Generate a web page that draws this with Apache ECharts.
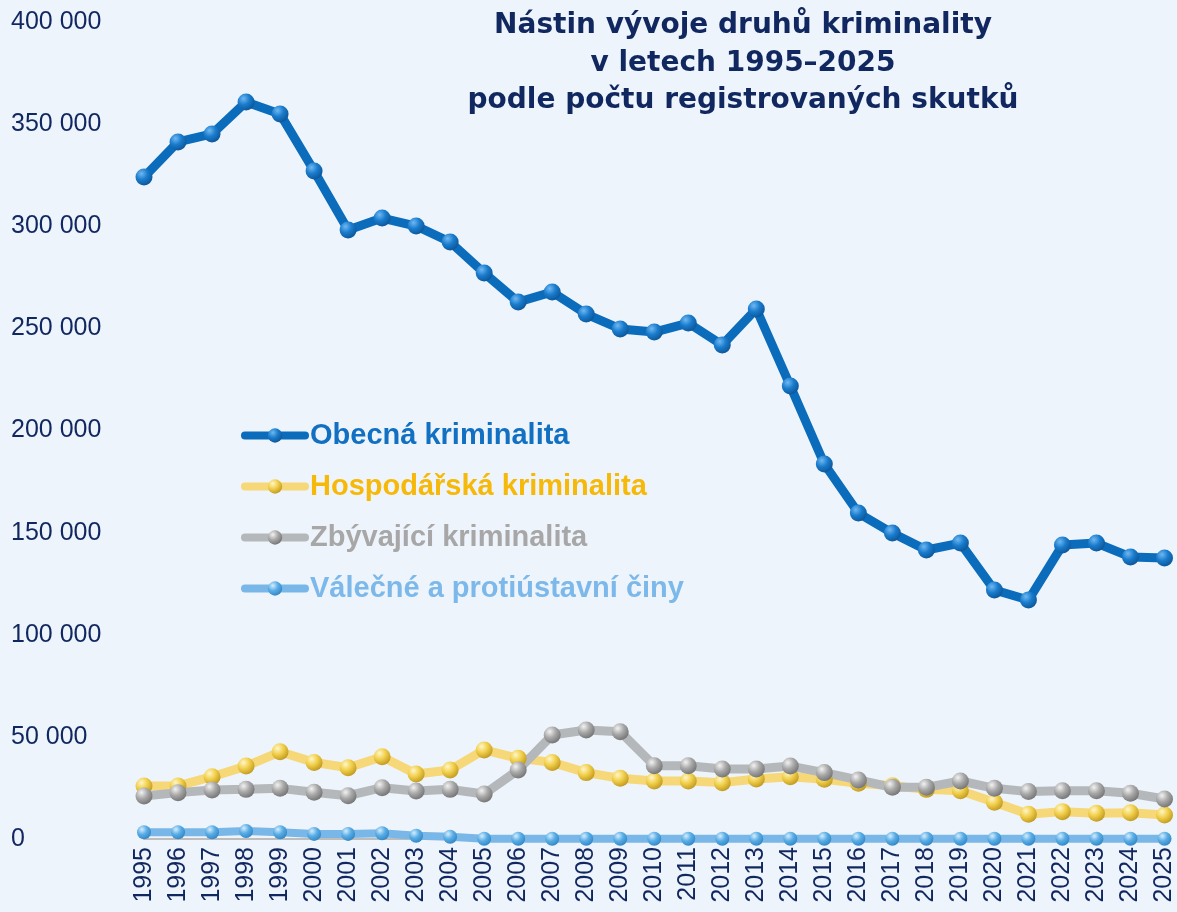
<!DOCTYPE html>
<html>
<head>
  <meta charset="utf-8">
  <title>Kriminalita</title>
  <script src="https://cdn.jsdelivr.net/npm/echarts@6/dist/echarts.min.js"></script>
  <style>
    html, body { margin: 0; padding: 0; background: #eef4fb; }
  </style>
</head>
<body>
<div id="main" style="width: 1177px;height:912px;"></div>
<script type="text/javascript">
  // roky a hodnoty
  var years = ['1995','1996','1997','1998','1999','2000','2001','2002','2003','2004','2005',
    '2006','2007','2008','2009','2010','2011','2012','2013','2014','2015',
    '2016','2017','2018','2019','2020','2021','2022','2023','2024','2025'];

  var obecna = [324100, 341300, 345200, 360800, 355000, 327100, 298200, 304000, 300100, 292300, 277100,
    262900, 267800, 257000, 249700, 248200, 252600, 241900, 259500, 221800, 183600,
    159600, 149800, 141500, 144900, 121900, 117000, 143900, 144900, 138100, 137600];

  var hospodarska = [25900, 26000, 30500, 35700, 42700, 37500, 34900, 40300, 31800, 33800, 43600,
    39500, 37500, 32500, 29700, 28400, 28400, 27600, 29400, 30500, 29200,
    27300, 26100, 24300, 23600, 18000, 12100, 13400, 12600, 12800, 11700];

  var zbyvajici = [21100, 22700, 24000, 24300, 24800, 22900, 21200, 25100, 23500, 24300, 22000,
    33800, 50900, 53400, 52500, 35900, 35900, 34300, 34300, 35700, 32500,
    28900, 25300, 25300, 28400, 24800, 23200, 23600, 23600, 22400, 19600];

  var valecne = [3300, 3300, 3300, 3900, 3300, 2500, 2500, 2800, 1600, 1100, 100,
    100, 100, 100, 100, 100, 100, 100, 100, 100, 100,
    100, 100, 100, 100, 100, 100, 100, 100, 100, 100];

  var yTicks = [0, 50000, 100000, 150000, 200000, 250000, 300000, 350000, 400000];

  var navy = '#10275f';
  var font = 'Liberation Sans, Arial, sans-serif';

  function ball(light, mid, dark) {
    return new echarts.graphic.RadialGradient(0.35, 0.3, 0.8, [
      {offset: 0, color: light},
      {offset: 0.45, color: mid},
      {offset: 1, color: dark}
    ]);
  }

  function serie(name, data, lineColor, width, symColor, size) {
    return {
      name: name,
      type: 'line',
      data: data,
      symbol: 'circle',
      symbolSize: size,
      lineStyle: {color: lineColor, width: width, cap: 'round'},
      itemStyle: {color: symColor, borderWidth: 0},
      emphasis: {disabled: true}
    };
  }

  var chartDom = document.getElementById('main');
  var myChart = echarts.init(chartDom);

  var option = {
    backgroundColor: '#eef4fb',
    animation: false,
    title: {
      text: 'Nástin vývoje druhů kriminality\nv letech 1995–2025\npodle počtu registrovaných skutků',
      left: 738,
      top: 2,
      textAlign: 'center',
      textStyle: {
        fontFamily: 'DejaVu Sans, sans-serif',
        fontSize: 28,
        fontWeight: 'bold',
        color: navy,
        lineHeight: 37.5
      }
    },
    legend: {
      orient: 'vertical',
      left: 236,
      top: 416,
      itemWidth: 60,
      itemHeight: 18,
      itemGap: 22,
      lineStyle: {width: 8, cap: 'round'},
      textStyle: {
        fontFamily: font,
        fontSize: 29,
        fontWeight: 'bold'
      },
      data: [
        {name: 'Obecná kriminalita', textStyle: {color: '#1270c2'}},
        {name: 'Hospodářská kriminalita', textStyle: {color: '#f6b90a'}},
        {name: 'Zbývající kriminalita', textStyle: {color: '#a7a7a7'}},
        {name: 'Válečné a protiústavní činy', textStyle: {color: '#7cb9ea'}}
      ]
    },
    grid: {
      left: 144,
      right: 10,
      top: 22,
      bottom: 73
    },
    xAxis: {
      type: 'category',
      data: years,
      boundaryGap: false,
      axisLine: {lineStyle: {color: '#bdbdbd', width: 2}},
      axisTick: {show: false},
      axisLabel: {
        rotate: 90,
        interval: 0,
        margin: 8,
        color: navy,
        fontSize: 25,
        fontFamily: font
      }
    },
    yAxis: {
      type: 'value',
      min: yTicks[0],
      max: yTicks[yTicks.length - 1],
      interval: 50000,
      splitLine: {show: false},
      axisLine: {show: false},
      axisTick: {show: false},
      axisLabel: {
        align: 'left',
        margin: 133,
        color: navy,
        fontSize: 25,
        fontFamily: font,
        formatter: function (v) {
          return String(v).replace(/\B(?=(\d{3})+(?!\d))/g, ' ');
        }
      }
    },
    series: [
      serie('Válečné a protiústavní činy', valecne, '#79b7e8', 8, ball('#d6ecfb', '#5aaee6', '#2b7fc0'), 14),
      serie('Hospodářská kriminalita', hospodarska, '#f6d878', 9, ball('#fff6c8', '#f1cf4a', '#b8901a'), 17),
      serie('Zbývající kriminalita', zbyvajici, '#b5b8bb', 9, ball('#f2f2f2', '#a9a9a9', '#6b6b6b'), 17),
      serie('Obecná kriminalita', obecna, '#0b6cbc', 9, ball('#6fb8f2', '#1a7ccd', '#0a4f8f'), 17)
    ]
  };

  option && myChart.setOption(option);
</script>
</body>
</html>
